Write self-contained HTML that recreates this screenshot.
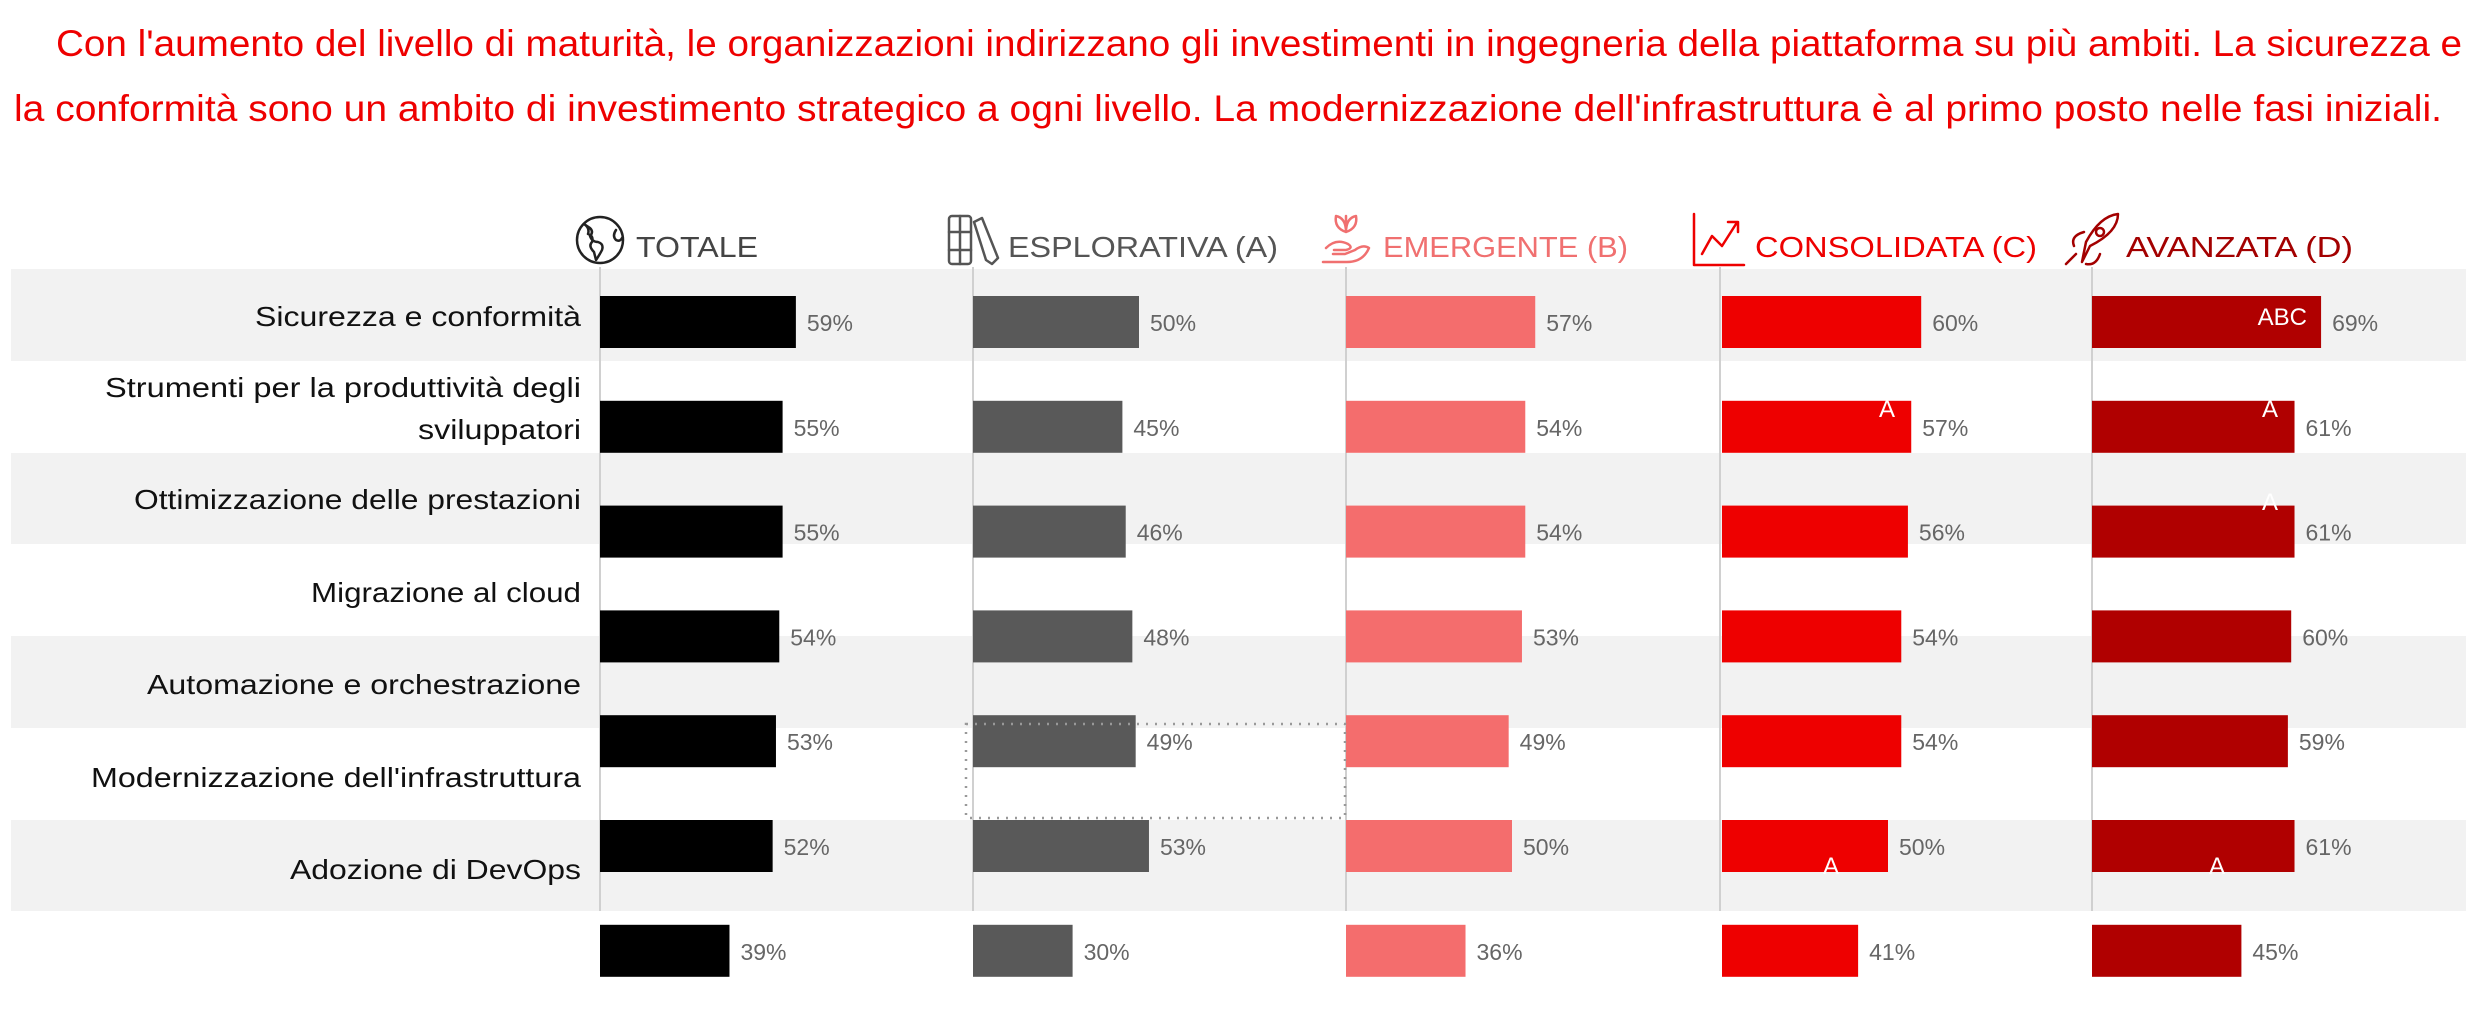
<!DOCTYPE html>
<html><head><meta charset="utf-8"><style>
html,body{margin:0;padding:0;background:#fff}
svg{display:block}
text{font-family:"Liberation Sans",sans-serif}
</style></head><body>
<svg width="2486" height="1010" viewBox="0 0 2486 1010" xmlns="http://www.w3.org/2000/svg">
<g fill="#ee0000" font-size="37">
<text x="56" y="56" textLength="2406" lengthAdjust="spacingAndGlyphs">Con l'aumento del livello di maturità, le organizzazioni indirizzano gli investimenti in ingegneria della piattaforma su più ambiti. La sicurezza e</text>
<text x="14" y="121" textLength="2428" lengthAdjust="spacingAndGlyphs">la conformità sono un ambito di investimento strategico a ogni livello. La modernizzazione dell'infrastruttura è al primo posto nelle fasi iniziali.</text>
</g>
<g fill="#f2f2f2">
<rect x="11" y="269" width="2455" height="92"/>
<rect x="11" y="453" width="2455" height="91"/>
<rect x="11" y="636" width="2455" height="92"/>
<rect x="11" y="820" width="2455" height="91"/>
</g>
<g stroke="#d0d0d0" stroke-width="2">
<line x1="600" y1="267" x2="600" y2="911"/>
<line x1="973" y1="267" x2="973" y2="911"/>
<line x1="1346" y1="267" x2="1346" y2="911"/>
<line x1="1720" y1="267" x2="1720" y2="911"/>
<line x1="2092" y1="267" x2="2092" y2="911"/>
</g>
<g font-size="29">
<text x="636" y="257" fill="#444" textLength="122" lengthAdjust="spacingAndGlyphs">TOTALE</text>
<text x="1008" y="257" fill="#555" textLength="270" lengthAdjust="spacingAndGlyphs">ESPLORATIVA (A)</text>
<text x="1383" y="257" fill="#f07070" textLength="245" lengthAdjust="spacingAndGlyphs">EMERGENTE (B)</text>
<text x="1755" y="257" fill="#ee0000" textLength="282" lengthAdjust="spacingAndGlyphs">CONSOLIDATA (C)</text>
<text x="2126" y="257" fill="#a30000" textLength="227" lengthAdjust="spacingAndGlyphs">AVANZATA (D)</text>
</g>
<g fill="none" stroke-width="2.5" stroke-linejoin="round" stroke-linecap="round">
<g stroke="#222">
<circle cx="600" cy="240" r="23"/>
<path d="M584 224 q6 4 4 10 q6 2 4 8 q-4 4 2 10 l2 8 q4-6 6-10 q2-6-4-8 q-6 0-8-6 q4-4 0-8 z"/>
<path d="M616 230 q-4 6 0 10 q4 2 6-2"/>
</g>
<g stroke="#555">
<rect x="949" y="216" width="22" height="48" rx="3"/>
<line x1="960" y1="216" x2="960" y2="264"/>
<line x1="949" y1="232" x2="971" y2="232"/>
<line x1="949" y1="250" x2="971" y2="250"/>
<path d="M974 222 l8-4 l16 40 l-6 6 l-6-4 z"/>
</g>
<g stroke="#f07070">
<path d="M1346 216 v16 M1346 232 q-12-4-10-16 q10 2 10 16 q12-4 10-16 q-10 2-10 16"/>
<path d="M1323 262 h24 q16 0 22-14 q-6-4-14 2 l-10 4 h-12 M1326 248 q10-10 22-4 q6 4-2 6 h-12"/>
</g>
<g stroke="#ee0000">
<path d="M1694 214 v51 h50"/>
<path d="M1702 254 l10-18 l10 10 l14-22 M1728 222 h10 v10"/>
</g>
<g stroke="#a30000">
<path d="M2082 262 l4-20 q14-26 32-28 q0 18-28 32 z"/>
<circle cx="2100" cy="232" r="4"/>
<path d="M2074 246 q-4-10 10-14 M2086 264 q10 2 14-10 M2066 264 l10-10"/>
</g>
</g>
<g font-size="28" fill="#111" text-anchor="end">
<text x="581" y="326" textLength="326" lengthAdjust="spacingAndGlyphs">Sicurezza e conformità</text>
<text x="581" y="397" textLength="476" lengthAdjust="spacingAndGlyphs">Strumenti per la produttività degli</text>
<text x="581" y="439" textLength="163" lengthAdjust="spacingAndGlyphs">sviluppatori</text>
<text x="581" y="509" textLength="447" lengthAdjust="spacingAndGlyphs">Ottimizzazione delle prestazioni</text>
<text x="581" y="602" textLength="270" lengthAdjust="spacingAndGlyphs">Migrazione al cloud</text>
<text x="581" y="694" textLength="434" lengthAdjust="spacingAndGlyphs">Automazione e orchestrazione</text>
<text x="581" y="787" textLength="490" lengthAdjust="spacingAndGlyphs">Modernizzazione dell'infrastruttura</text>
<text x="581" y="879" textLength="291" lengthAdjust="spacingAndGlyphs">Adozione di DevOps</text>
</g>
<g id="bars"></g>
<rect x="966" y="724" width="379" height="94" fill="none" stroke="#999" stroke-width="2.5" stroke-dasharray="2,7"/>
</svg>
<script>
(function(){
var ns="http://www.w3.org/2000/svg";
var g=document.getElementById("bars");
var cols=[
 {x:600,c:"#000000",v:[59,55,55,54,53,52,39]},
 {x:973,c:"#595959",v:[50,45,46,48,49,53,30]},
 {x:1346,c:"#f46d6d",v:[57,54,54,53,49,50,36]},
 {x:1722,c:"#ee0000",v:[60,57,56,54,54,50,41]},
 {x:2092,c:"#b00000",v:[69,61,61,60,59,61,45]}];
var k=3.32;
cols.forEach(function(col){
 col.v.forEach(function(v,i){
  var y=296+104.8*i;
  var w=v*k;
  var r=document.createElementNS(ns,"rect");
  r.setAttribute("x",col.x);r.setAttribute("y",y);r.setAttribute("width",w);r.setAttribute("height",52);
  r.setAttribute("fill",col.c);g.appendChild(r);
  var t=document.createElementNS(ns,"text");
  t.setAttribute("x",col.x+w+11);t.setAttribute("y",y+35);
  t.setAttribute("font-size","23");t.setAttribute("fill","#666");
  t.textContent=v+"%";g.appendChild(t);
 });
});
var ann=[["ABC",2307,325,"end"],["A",1887,417,"middle"],["A",2270,417,"middle"],["A",2270,510,"middle"],
["BC",2264,787,"middle"],["A",1831,874,"middle"],["A",2217,874,"middle"]];
ann.forEach(function(a){
 var t=document.createElementNS(ns,"text");
 t.setAttribute("x",a[1]);t.setAttribute("y",a[2]);t.setAttribute("text-anchor",a[3]);
 t.setAttribute("font-size","24");t.setAttribute("fill","#fff");
 t.textContent=a[0];g.appendChild(t);
});
})();
</script>
</body></html>
